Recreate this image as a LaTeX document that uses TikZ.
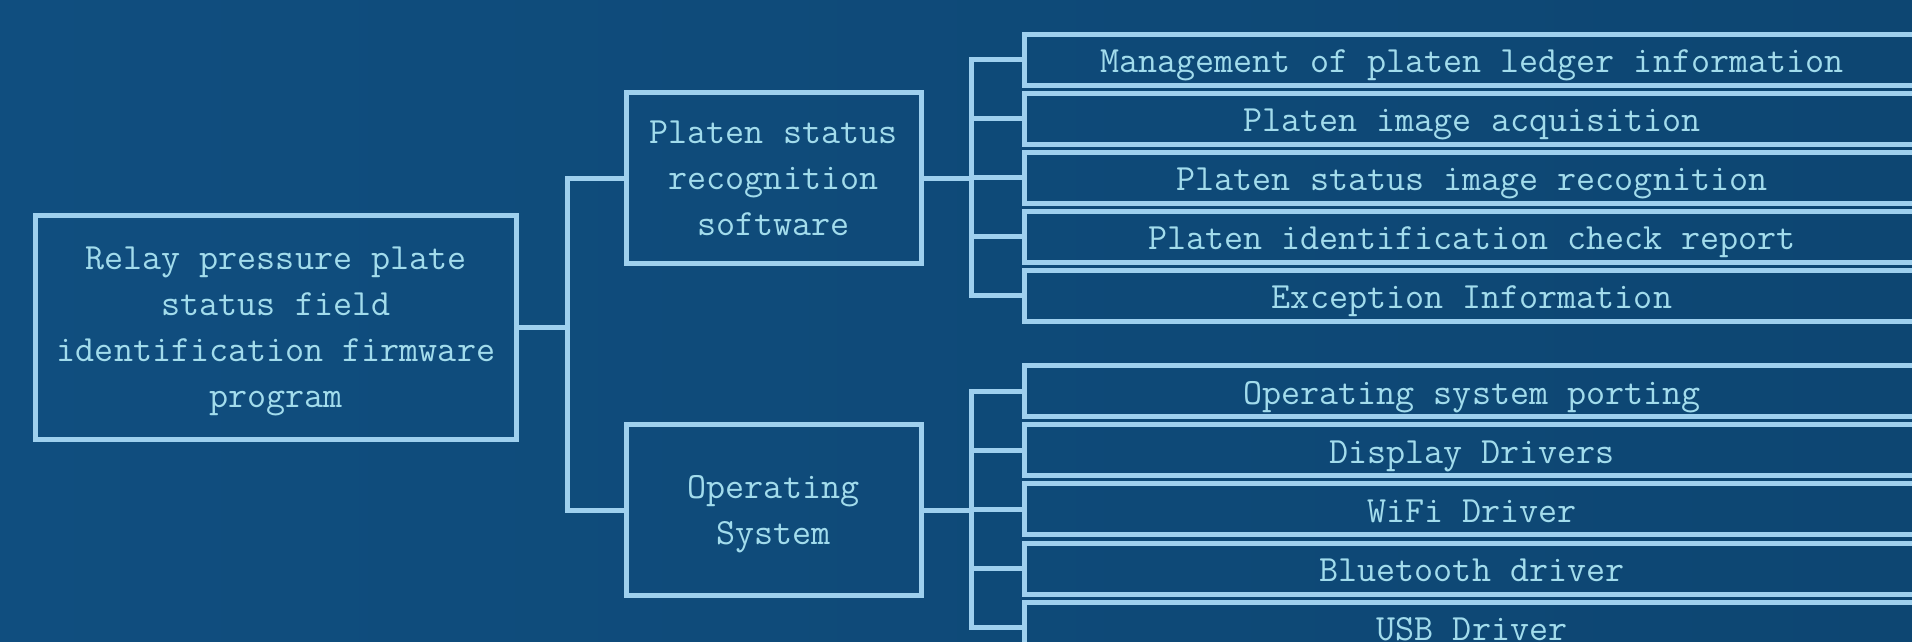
\documentclass[tikz,border=0pt]{standalone}
\usepackage{fontspec}
\definecolor{bgleft}{HTML}{104E7F}
\definecolor{bgright}{HTML}{0D4672}
\definecolor{edge}{HTML}{9ED0EE}
\definecolor{ink}{HTML}{A2DCEC}
\tikzset{
  box/.style={rectangle, draw=edge, line width=5pt, text=ink, align=center,
    inner sep=0pt, text depth=0pt, font=\ttfamily\fontsize{37}{46}\selectfont},
  midbox/.style={box, minimum width=295pt, minimum height=171pt},
  leaf/.style={box, minimum width=895pt, minimum height=51pt, text height=26pt},
  wire/.style={draw=edge, line width=5pt, line cap=rect},
}
\begin{document}
\begin{tikzpicture}[x=1pt,y=-1pt]
\useasboundingbox (0,0) rectangle (1912,641);
\clip (0,0) rectangle (1912,641);
\shade[left color=bgleft, right color=bgright] (0,0) rectangle (1912,641);

% root and the two subsystems
\node[box, minimum width=481pt, minimum height=224pt] (root) at (276,327.5)
  {Relay pressure plate\\status field\\identification firmware\\program};
\node[midbox] (soft) at (773.5,178) {Platen status\\recognition\\software};
\node[midbox] (os) at (773.5,510) {Operating\\System};

% software functions
\node[leaf] (s1) at (1472,59.5)  {Management of platen ledger information};
\node[leaf] (s2) at (1472,118.6) {Platen image acquisition};
\node[leaf] (s3) at (1472,177.7) {Platen status image recognition};
\node[leaf] (s4) at (1472,236.8) {Platen identification check report};
\node[leaf] (s5) at (1472,295.9) {Exception Information};

% operating system parts
\node[leaf] (o1) at (1472,391)   {Operating system porting};
\node[leaf] (o2) at (1472,450.2) {Display Drivers};
\node[leaf] (o3) at (1472,509.4) {WiFi Driver};
\node[leaf] (o4) at (1472,568.6) {Bluetooth driver};
\node[leaf] (o5) at (1472,627.8) {USB Driver};

% junction columns
\coordinate (jr) at (567,327.5);
\coordinate (jm) at (971,0);

% root to subsystems
\draw[wire] (root.east) -- (jr);
\draw[wire] (soft.west) -- (soft.west -| jr) -- (os.west -| jr) -- (os.west);

% subsystems to their parts
\draw[wire] (soft.east) -- (soft.east -| jm);
\draw[wire] (s1.west -| jm) -- (s5.west -| jm);
\foreach \n in {s1,s2,s3,s4,s5} \draw[wire] (\n.west -| jm) -- (\n.west);
\draw[wire] (os.east) -- (os.east -| jm);
\draw[wire] (o1.west -| jm) -- (o5.west -| jm);
\foreach \n in {o1,o2,o3,o4,o5} \draw[wire] (\n.west -| jm) -- (\n.west);
\end{tikzpicture}
\end{document}
